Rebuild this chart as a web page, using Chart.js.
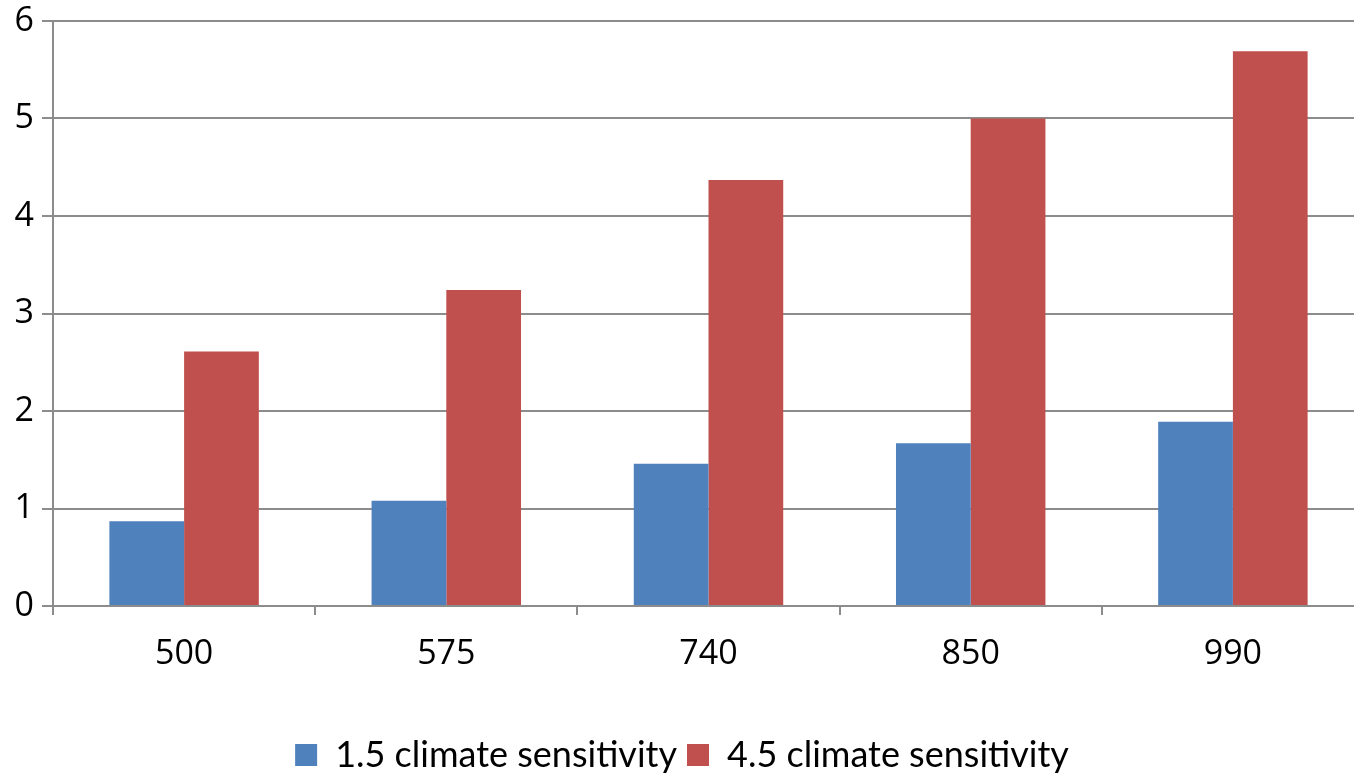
<!DOCTYPE html>
<html>
<head>
<meta charset="utf-8">
<script src="https://cdn.jsdelivr.net/npm/chart.js@4"></script>
<style>
  html, body { margin: 0; padding: 0; background: #fff; overflow: hidden; }
  #wrap { position: relative; width: 1370px; height: 775px; }
</style>
</head>
<body>
<div id="wrap"><canvas id="c"></canvas></div>
<script>
// Warming by emission total, for two climate sensitivities
const categories = ['500', '575', '740', '850', '990'];
const lowSensitivity = [0.87, 1.08, 1.46, 1.67, 1.89];
const highSensitivity = [2.61, 3.24, 4.37, 5.0, 5.69];
const seriesNames = ['1.5 climate sensitivity', '4.5 climate sensitivity'];
const yTicks = [0, 1, 2, 3, 4, 5, 6];

const gridGray = '#8c8c8c';
const tickFont = { family: "'Open Sans', 'DejaVu Sans', sans-serif", size: 34 };

new Chart(document.getElementById('c'), {
  type: 'bar',
  data: {
    labels: categories,
    datasets: [
      { label: seriesNames[0], data: lowSensitivity, backgroundColor: '#4f81bd' },
      { label: seriesNames[1], data: highSensitivity, backgroundColor: '#c0504d' }
    ]
  },
  options: {
    responsive: true,
    maintainAspectRatio: false,
    animation: false,
    layout: { padding: { top: 0, right: 6, left: 0, bottom: -8 } },
    datasets: { bar: { categoryPercentage: 0.57, barPercentage: 1.0 } },
    plugins: {
      tooltip: { enabled: false },
      legend: {
        position: 'bottom',
        labels: {
          boxWidth: 22,
          boxHeight: 22,
          padding: 10,
          color: '#000',
          font: { family: "'Liberation Sans Narrow', 'Lato', sans-serif", size: 36 }
        }
      }
    },
    scales: {
      x: {
        offset: true,
        grid: { offset: true, drawOnChartArea: false, drawTicks: true, tickLength: 9, color: gridGray, lineWidth: 2 },
        border: { display: true, color: gridGray, width: 2 },
        ticks: { color: '#000', font: tickFont, padding: 19 },
        afterFit: (s) => { s.height = 121; }
      },
      y: {
        min: 0,
        max: 6,
        afterBuildTicks: (s) => { s.ticks = yTicks.map(v => ({ value: v })); },
        grid: { color: gridGray, lineWidth: 2, tickLength: 11 },
        border: { display: true, color: gridGray, width: 2 },
        ticks: { color: '#000', font: tickFont, padding: 8 },
        afterFit: (s) => { s.width = 53; s.paddingTop = 21; }
      }
    }
  }
});
</script>
</body>
</html>
